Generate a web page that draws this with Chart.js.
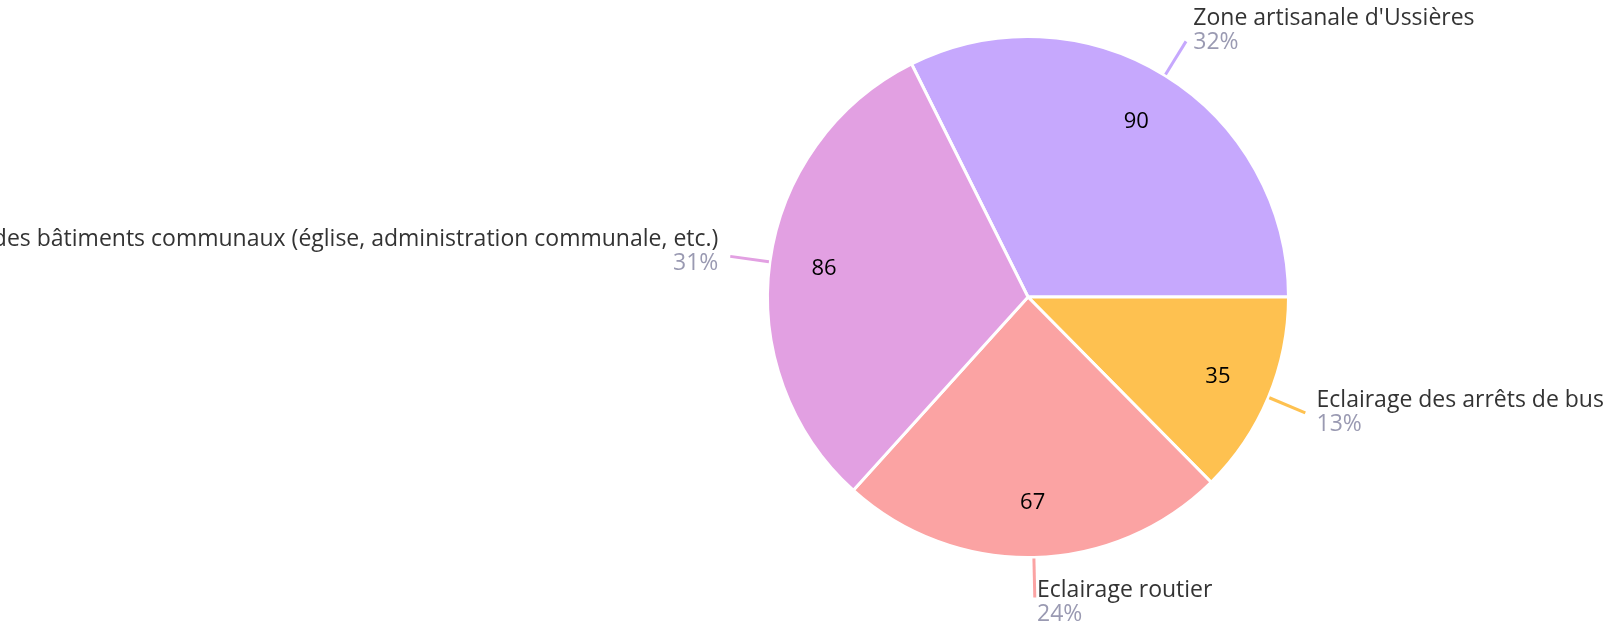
<!DOCTYPE html>
<html>
<head>
<meta charset="utf-8">
<script src="https://cdn.jsdelivr.net/npm/chart.js@4/dist/chart.umd.min.js"></script>
<style>
    html, body { margin: 0; padding: 0; background: #fff; }
    #wrap { width: 1606px; height: 627px; }
</style>
</head>
<body>
<div id="wrap"><canvas id="pieChart"></canvas></div>
<script>
const labels = [
    "Zone artisanale d'Ussières",
    "Eclairage des arrêts de bus",
    "Eclairage routier",
    "Eclairage des bâtiments communaux (église, administration communale, etc.)"
];
const values = [90, 35, 67, 86];
const colors = ["#c6a8fd", "#fec150", "#fba3a3", "#e2a0e2"];

const total = values.reduce((a, b) => a + b, 0);
const fontFamily = "'Open Sans', sans-serif";

// value inside each slice + leader line and label outside
const sliceLabels = {
    id: 'sliceLabels',
    afterDatasetsDraw(chart) {
        const ctx = chart.ctx;
        const arcs = chart.getDatasetMeta(0).data;
        ctx.save();
        arcs.forEach((arc, i) => {
            const mid = (arc.startAngle + arc.endAngle) / 2;
            const cos = Math.cos(mid), sin = Math.sin(mid);
            const r = arc.outerRadius;

            // value
            ctx.font = "22px " + fontFamily;
            ctx.fillStyle = "#000";
            ctx.textAlign = "center";
            ctx.textBaseline = "middle";
            ctx.fillText(values[i], arc.x + cos * r * 0.79, arc.y + sin * r * 0.79);

            // leader line
            const x1 = arc.x + cos * (r + 1), y1 = arc.y + sin * (r + 1);
            const x2 = arc.x + cos * (r + 40), y2 = arc.y + sin * (r + 40);
            ctx.strokeStyle = colors[i];
            ctx.lineWidth = 3;
            ctx.beginPath();
            ctx.moveTo(x1, y1);
            ctx.lineTo(x2, y2);
            ctx.stroke();

            // label + percent
            const right = cos >= 0;
            const tx = x2 + cos * 10 + (right ? 2 : -2);
            const mid_y = y2 + 3 + 9 * sin;
            ctx.textAlign = right ? "left" : "right";
            ctx.textBaseline = "alphabetic";
            ctx.font = "23px " + fontFamily;
            ctx.fillStyle = "#333333";
            ctx.fillText(labels[i], tx, mid_y - 12);
            ctx.fillStyle = "#9a9ab2";
            ctx.fillText(Math.round(values[i] / total * 100) + "%", tx, mid_y + 12);
        });
        ctx.restore();
    }
};

new Chart(document.getElementById("pieChart").getContext('2d'), {
    type: 'pie',
    data: {
        labels: labels,
        datasets: [{
            data: values,
            backgroundColor: colors,
            borderColor: '#ffffff',
            borderWidth: 3
        }]
    },
    options: {
        responsive: true,
        maintainAspectRatio: false,
        animation: false,
        rotation: 90 - 360 * values[0] / total,
        layout: {
            padding: { left: 766, right: 316, top: 35, bottom: 68 }
        },
        plugins: {
            legend: { display: false },
            tooltip: { enabled: false }
        }
    },
    plugins: [sliceLabels]
});
</script>
</body>
</html>
